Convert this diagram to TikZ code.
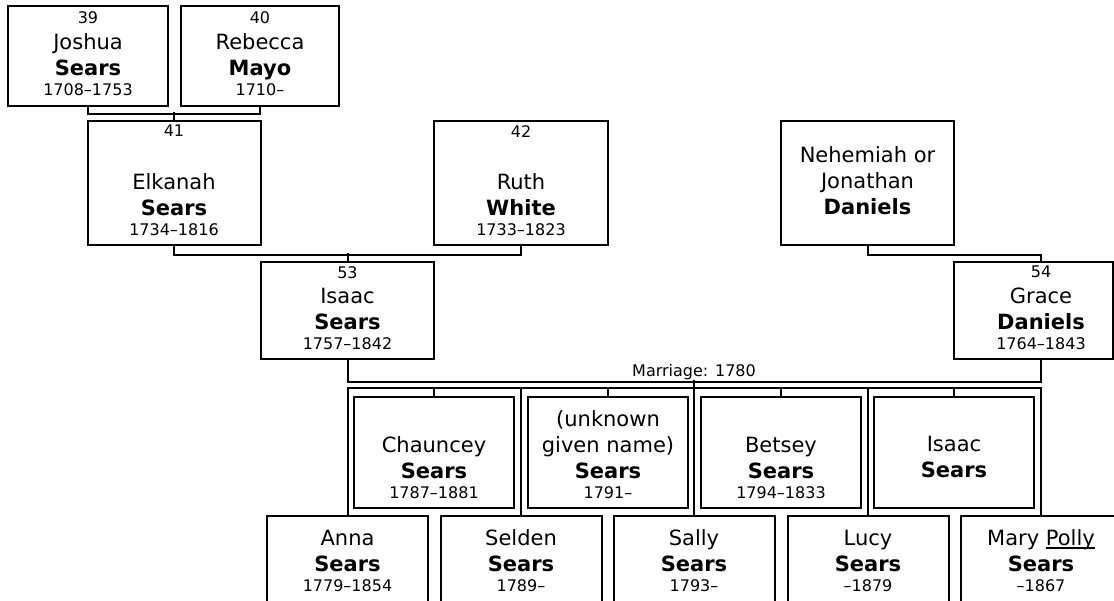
\documentclass[tikz,border=0pt]{standalone}
\usepackage{fontspec}
\setmainfont{DejaVu Sans}
\usetikzlibrary{positioning}

\newcommand{\bigname}{\fontsize{21}{26}\selectfont}
\newcommand{\yrs}{\fontsize{16}{19}\selectfont}
\newcommand{\ulword}[1]{\setbox0\hbox{#1}\rlap{\rule[-3pt]{\wd0}{1.3pt}}\box0}

\begin{document}
\begin{tikzpicture}[
    x=1pt, y=-1pt,
    person/.style={rectangle, draw=black, line width=2pt, inner sep=0pt},
    pairbox/.style={person, minimum height=100},
    elderbox/.style={person, minimum width=173, minimum height=124},
    mainbox/.style={person, minimum width=173, minimum height=97},
    kidbox/.style={person, minimum width=160, minimum height=111},
    lowbox/.style={person, minimum width=161, minimum height=95},
    namestack/.style={inner sep=0pt, align=center, font=\bigname},
    numtag/.style={inner sep=0pt, font=\yrs},
    link/.style={draw=black, line width=2pt}
    ]
    \useasboundingbox (0,0) rectangle (1114,600);
    \clip (0,0) rectangle (1114,600);

    % Row 1: great-grandparents
    \node[pairbox, minimum width=160] (joshua) at (88,56) {};
    \node[pairbox, minimum width=158] (rebecca) at (260,56) {};

    % Row 2: grandparents
    \node[elderbox] (elkanah) at (174,183) {};
    \node[elderbox, minimum width=174] (ruth) at (521,183) {};
    \node[elderbox] (nehemiah) at (867.5,183) {};

    % Row 3: parents
    \node[mainbox] (isaac) at (347.5,310.5) {};
    \node[mainbox, minimum width=159] (grace) at (1033.5,310.5) {};

    % Row 4: children, upper line
    \node[kidbox] (chauncey) at (434,452.5) {};
    \node[kidbox] (unknown) at (608,452.5) {};
    \node[kidbox] (betsey) at (781,452.5) {};
    \node[kidbox] (isaacjr) at (954,452.5) {};

    % Row 5: children, lower line (cut off by the page edge)
    \node[lowbox] (anna) at (347.5,563.5) {};
    \node[lowbox] (selden) at (521,563.5) {};
    \node[lowbox] (sally) at (694,563.5) {};
    \node[lowbox] (lucy) at (868,563.5) {};
    \node[lowbox] (polly) at (1041,563.5) {};

    % Numbers
    \node[numtag, below=6pt of joshua.north] (joshuanum) {39};
    \node[numtag, below=6pt of rebecca.north] (rebeccanum) {40};
    \node[numtag, below=5pt of elkanah.north] (elkanahnum) {41};
    \node[numtag, below=5pt of ruth.north] (ruthnum) {42};
    \node[numtag, below=5pt of isaac.north] (isaacnum) {53};
    \node[numtag, below=5pt of grace.north, xshift=7.5pt] (gracenum) {54};

    % Names
    \node[namestack, above=11pt of joshua.south] (joshuaname) {Joshua\\\textbf{Sears}\\[-6pt]{\yrs 1708–1753}};
    \node[namestack, above=11pt of rebecca.south] (rebeccaname) {Rebecca\\\textbf{Mayo}\\[-6pt]{\yrs 1710–}};
    \node[namestack, above=10pt of elkanah.south] (elkanahname) {Elkanah\\\textbf{Sears}\\[-6pt]{\yrs 1734–1816}};
    \node[namestack, above=10pt of ruth.south] (ruthname) {Ruth\\\textbf{White}\\[-6pt]{\yrs 1733–1823}};
    \node[namestack, above=31pt of nehemiah.south] (nehemiahname) {Nehemiah or\\Jonathan\\\textbf{Daniels}};
    \node[namestack, above=10pt of isaac.south] (isaacname) {Isaac\\\textbf{Sears}\\[-6pt]{\yrs 1757–1842}};
    \node[namestack, above=10pt of grace.south, xshift=7.5pt] (gracename) {Grace\\\textbf{Daniels}\\[-6pt]{\yrs 1764–1843}};
    \node[namestack, above=10pt of chauncey.south] (chaunceyname) {Chauncey\\\textbf{Sears}\\[-6pt]{\yrs 1787–1881}};
    \node[namestack, above=10pt of unknown.south] (unknownname) {(unknown\\given name)\\\textbf{Sears}\\[-6pt]{\yrs 1791–}};
    \node[namestack, above=10pt of betsey.south] (betseyname) {Betsey\\\textbf{Sears}\\[-6pt]{\yrs 1794–1833}};
    \node[namestack, above=31pt of isaacjr.south] (isaacjrname) {Isaac\\\textbf{Sears}};
    \node[namestack, above=20pt of anna.south] (annaname) {Anna\\\textbf{Sears}\\[-6pt]{\yrs 1779–1854}};
    \node[namestack, above=20pt of selden.south] (seldenname) {Selden\\\textbf{Sears}\\[-6pt]{\yrs 1789–}};
    \node[namestack, above=20pt of sally.south] (sallyname) {Sally\\\textbf{Sears}\\[-6pt]{\yrs 1793–}};
    \node[namestack, above=20pt of lucy.south] (lucyname) {Lucy\\\textbf{Sears}\\[-6pt]{\yrs –1879}};
    \node[namestack, above=20pt of polly.south] (pollyname) {Mary \ulword{Polly}\\\textbf{Sears}\\[-6pt]{\yrs –1867}};

    % Parent links
    \draw[link] (joshua.south) -- ++(0,7) -| (rebecca.south);
    \draw[link] (elkanah.north) -- ++(0,-8);
    \draw[link] (elkanah.south) -- ++(0,9) -| (ruth.south);
    \draw[link] (isaac.north) -- ++(0,-8);
    \draw[link] (nehemiah.south) -- ++(0,9) -| (gracenum |- grace.north);

    % Marriage and children
    \draw[link] (isaac.south) -- ++(0,22) -| (gracenum |- grace.south);
    \node[numtag, anchor=base] (wedding) at (694,376) {Marriage: 1780};
    \draw[link] (anna.north) -- ++(0,-127) -| (polly.north);
    \draw[link] (selden.north) -- ++(0,-127);
    \draw[link] (sally.north) -- ++(0,-135);
    \draw[link] (lucy.north) -- ++(0,-127);
    \foreach \kid in {chauncey, unknown, betsey, isaacjr}
        \draw[link] (\kid.north) -- ++(0,-8);

\end{tikzpicture}
\end{document}
